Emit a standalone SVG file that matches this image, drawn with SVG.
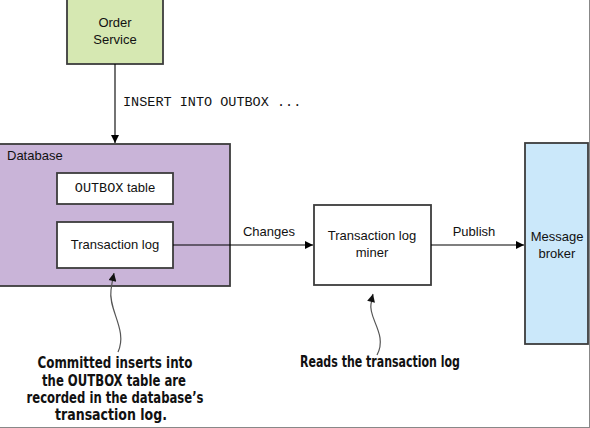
<svg xmlns="http://www.w3.org/2000/svg" width="590" height="428" viewBox="0 0 590 428">
  <style>
    .box { stroke: #3c3c3c; stroke-width: 1.8; }
    .label { font-family: "Liberation Sans", Arial, sans-serif; font-size: 13px; fill: #111; }
    .mono { font-family: "Liberation Mono", "Courier New", monospace; font-size: 13.5px; fill: #111; }
    .note { font-family: "DejaVu Sans Condensed", "DejaVu Sans", sans-serif; font-weight: bold; font-size: 15.5px; fill: #111; }
    .flow { stroke: #000; stroke-width: 1.1; fill: none; }
    .callout { stroke: #555; stroke-width: 1.2; fill: none; }
  </style>
  <defs>
    <marker id="arrow" viewBox="0 0 10 10" refX="10" refY="5" markerWidth="10" markerHeight="8" markerUnits="userSpaceOnUse" orient="auto">
      <path d="M0,0 L10,5 L0,10 z" fill="#000"/>
    </marker>
    <marker id="tip" viewBox="0 0 10 10" refX="10" refY="5" markerWidth="9" markerHeight="8" markerUnits="userSpaceOnUse" orient="auto">
      <path d="M0,0 L10,5 L0,10 z" fill="#111"/>
    </marker>
  </defs>

  <rect width="590" height="428" fill="#fff"/>

  <!-- Order Service -->
  <g id="order-service">
    <rect class="box" x="67" y="-2" width="96" height="66" fill="#d6e8b2"/>
    <text class="label" x="115" y="27" text-anchor="middle">Order</text>
    <text class="label" x="115" y="44" text-anchor="middle">Service</text>
  </g>

  <!-- Database with its two tables -->
  <g id="database">
    <rect class="box" x="-2" y="144" width="232" height="142" fill="#c9b4d8"/>
    <text class="label" x="7" y="160">Database</text>
  </g>
  <g id="outbox-table">
    <rect class="box" x="57" y="173" width="116" height="31" fill="#fff"/>
    <text x="115" y="192" text-anchor="middle"><tspan class="mono" font-size="12px">OUTBOX</tspan><tspan class="label"> table</tspan></text>
  </g>
  <g id="transaction-log">
    <rect class="box" x="57" y="222" width="116" height="46" fill="#fff"/>
    <text class="label" x="115" y="249" text-anchor="middle">Transaction log</text>
  </g>

  <!-- Transaction log miner -->
  <g id="log-miner">
    <rect class="box" x="314" y="205" width="117" height="80" fill="#fff"/>
    <text class="label" x="372" y="240" text-anchor="middle">Transaction log</text>
    <text class="label" x="372" y="257" text-anchor="middle">miner</text>
  </g>

  <!-- Message broker -->
  <g id="message-broker">
    <rect class="box" x="525" y="143" width="63" height="201" fill="#cbe8fa"/>
    <text class="label" x="557" y="241" text-anchor="middle">Message</text>
    <text class="label" x="557" y="258" text-anchor="middle">broker</text>
  </g>

  <!-- Connectors -->
  <g id="connectors">
    <line class="flow" x1="115" y1="64" x2="115" y2="143" marker-end="url(#arrow)"/>
    <text class="mono" x="123" y="106">INSERT INTO OUTBOX ...</text>

    <line class="flow" x1="173" y1="245" x2="313" y2="245" marker-end="url(#arrow)"/>
    <text class="label" x="269" y="236" text-anchor="middle">Changes</text>

    <line class="flow" x1="431" y1="245" x2="524" y2="245" marker-end="url(#arrow)"/>
    <text class="label" x="474" y="236" text-anchor="middle">Publish</text>
  </g>

  <!-- Callouts -->
  <g id="callout-log">
    <path class="callout" d="M118,352 C128,330 108,310 111,290 C112,282 113,278 114,273" marker-end="url(#tip)"/>
    <text class="note" x="115" y="368" text-anchor="middle" textLength="155" lengthAdjust="spacingAndGlyphs">Committed inserts into</text>
    <text class="note" x="114" y="385.5" text-anchor="middle" textLength="144" lengthAdjust="spacingAndGlyphs">the OUTBOX table are</text>
    <text class="note" x="115" y="403" text-anchor="middle" textLength="177" lengthAdjust="spacingAndGlyphs">recorded in the database’s</text>
    <text class="note" x="111" y="420" text-anchor="middle" textLength="112" lengthAdjust="spacingAndGlyphs">transaction log.</text>
  </g>
  <g id="callout-miner">
    <path class="callout" d="M377,355 C388,335 368,318 371,304 C372,300 372,298 373,294" marker-end="url(#tip)"/>
    <text class="note" x="380" y="367" text-anchor="middle" textLength="160" lengthAdjust="spacingAndGlyphs">Reads the transaction log</text>
  </g>

  <!-- frame edges -->
  <line x1="589.5" y1="0" x2="589.5" y2="428" stroke="#888" stroke-width="1"/>
  <line x1="0" y1="427.5" x2="590" y2="427.5" stroke="#888" stroke-width="1"/>
</svg>
